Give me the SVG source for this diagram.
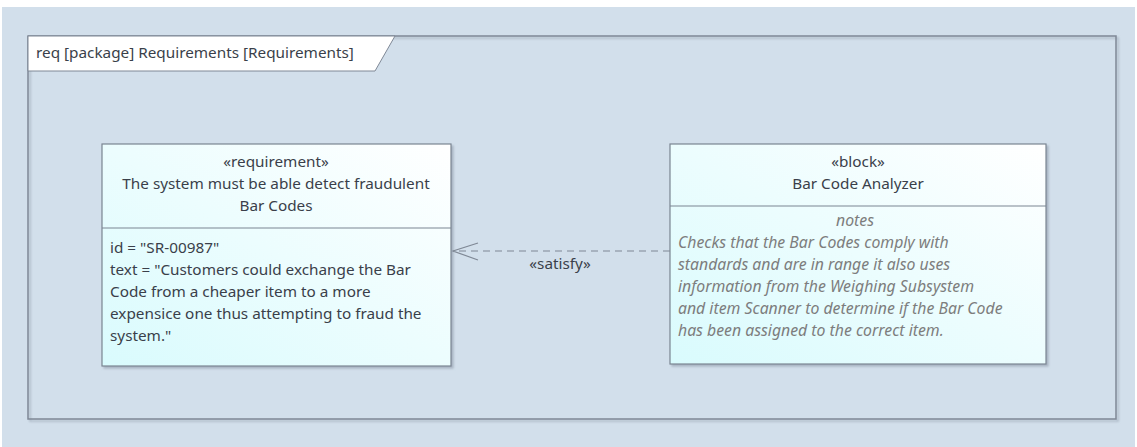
<svg xmlns="http://www.w3.org/2000/svg" width="1137" height="447" viewBox="0 0 1137 447">
<defs>
<linearGradient id="nodeGrad" x1="0" y1="1" x2="1" y2="0">
<stop offset="0" stop-color="#d9fbfd"/>
<stop offset="1" stop-color="#ffffff"/>
</linearGradient>
<filter id="shadow" x="-5%" y="-5%" width="110%" height="110%">
<feDropShadow dx="2" dy="2" stdDeviation="1" flood-color="#8a96a6" flood-opacity="0.6"/>
</filter>
</defs>
<style>
text{font-family:"Noto Sans","Open Sans","DejaVu Sans",sans-serif;font-size:15.3px;fill:#3a3f4a}
.c{text-anchor:middle}
.note{font-style:italic;fill:#7d7d7d;font-size:15.8px}
.node{fill:url(#nodeGrad);stroke:#7b8592;stroke-width:1.2}
.div{stroke:#7b8592;stroke-width:1}
.conn{fill:none;stroke:#7f8895;stroke-width:1.2}
</style>
<rect x="0" y="0" width="1137" height="447" fill="#ffffff"/>
<rect x="2" y="7" width="1133" height="440" fill="#d2dfeb"/>
<g id="frame">
<rect x="28" y="36" width="1088" height="383" fill="none" stroke="#7f8896" stroke-width="1.5" filter="url(#shadow)"/>
<path d="M28 36 H395 L375 71 H28 Z" fill="#ffffff" stroke="#7f8896" stroke-width="1"/>
<text x="36" y="58">req [package] Requirements [Requirements]</text>
</g>
<g id="requirement">
<rect class="node" x="102" y="144" width="349" height="222" filter="url(#shadow)"/>
<line class="div" x1="102" y1="228" x2="451" y2="228"/>
<text class="c" x="276" y="167">«requirement»</text>
<text class="c" x="276" y="189">The system must be able detect fraudulent</text>
<text class="c" x="276" y="211">Bar Codes</text>
<text x="110" y="253">id = "SR-00987"</text>
<text x="110" y="275">text = "Customers could exchange the Bar</text>
<text x="110" y="297">Code from a cheaper item to a more</text>
<text x="110" y="319">expensice one thus attempting to fraud the</text>
<text x="110" y="341">system."</text>
</g>
<g id="block">
<rect class="node" x="670" y="144" width="376" height="220" filter="url(#shadow)"/>
<line class="div" x1="670" y1="206" x2="1046" y2="206"/>
<text class="c" x="858" y="167">«block»</text>
<text class="c" x="858" y="189">Bar Code Analyzer</text>
<text class="c note" x="855" y="226">notes</text>
<text class="note" x="678" y="248">Checks that the Bar Codes comply with</text>
<text class="note" x="678" y="270">standards and are in range it also uses</text>
<text class="note" x="678" y="292">information from the Weighing Subsystem</text>
<text class="note" x="678" y="314">and item Scanner to determine if the Bar Code</text>
<text class="note" x="678" y="336">has been assigned to the correct item.</text>
</g>
<g id="connectors">
<line class="conn" x1="670" y1="251" x2="453" y2="251" stroke-dasharray="7,5"/>
<path class="conn" d="M478 243 L453 251 L478 260"/>
<text class="c" x="560" y="269">«satisfy»</text>
</g>
</svg>
